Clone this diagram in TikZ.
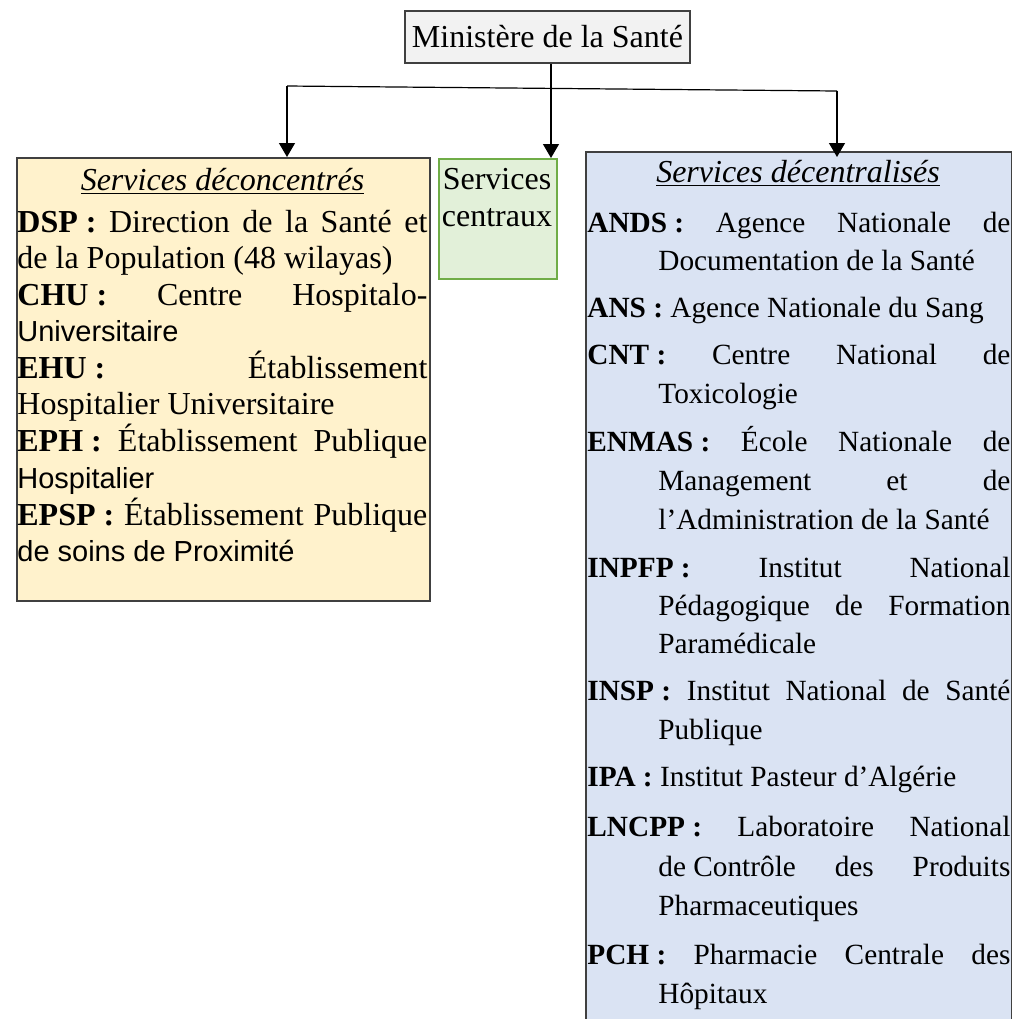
\documentclass[tikz,border=0pt]{standalone}
\usepackage{fontspec}
\setmainfont{Liberation Serif}
\setsansfont{Liberation Sans}
\usetikzlibrary{arrows.meta}
\definecolor{yel}{HTML}{FFF2CC}
\definecolor{blu}{HTML}{DAE3F3}
\definecolor{grn}{HTML}{E2F0D9}
\definecolor{grnb}{HTML}{70AD47}
\definecolor{gry}{HTML}{F2F2F2}
\definecolor{bord}{HTML}{404040}
\newcommand\lab[1]{\textbf{#1\kern.25em:}}
\newcommand\jl[2]{\makebox[#1][s]{#2}}
\newcommand\sfl[1]{{\sffamily\fontsize{14.5pt}{17pt}\selectfont #1}}
\begin{document}
\begin{tikzpicture}[x=0.5pt,y=-0.5pt,
  box/.style={draw=bord, line width=1pt, inner sep=0pt, anchor=north west},
  txt/.style={anchor=base west, inner sep=0pt, font=\fontsize{16pt}{18pt}\selectfont},
  rtxt/.style={anchor=base west, inner sep=0pt, font=\fontsize{14.65pt}{17pt}\selectfont},
  arr/.style={-{Triangle[length=7pt,width=8pt]}, line width=0.6pt}]
\useasboundingbox (0,0) rectangle (1012,1019);
\fill[white] (0,0) rectangle (1012,1019);
% boxes
\node[box, fill=gry, anchor=center, minimum width=142.5pt, minimum height=26pt,
      font=\fontsize{16pt}{18pt}\selectfont] (min) at (547.5,37) {Ministère de la Santé};
\node[box, fill=yel, minimum width=206.5pt, minimum height=221.5pt] (dec) at (16,157) {};
\node[box, fill=grn, draw=grnb, minimum width=59pt, minimum height=60pt] (cen) at (438,158) {};
\node[box, fill=blu, minimum width=213pt, minimum height=440pt] (dcz) at (585,151) {};
% connectors
\coordinate (bl) at (287,86);
\coordinate (br) at (837,91);
\coordinate (j) at (551,88.6);
\draw[line width=0.6pt] (bl) -- (br);
\draw[arr] (j |- min.south) -- (j |- cen.north);
\draw[arr] (bl) -- (bl |- dec.north);
\draw[arr] (br) -- ([yshift=-3pt]br |- dcz.north);
% left box text
\node[txt, anchor=base] (hl) at (222.5,190) {\underline{\textit{Services déconcentrés}}};
\node[txt] (l1) at (17,232) {\jl{205pt}{\lab{DSP} Direction de la Santé et}};
\node[txt] (l2) at (17,268) {de la Population (48 wilayas)};
\node[txt] (l3) at (17,305) {\jl{205pt}{\lab{CHU} Centre Hospitalo-}};
\node[txt] (l4) at (17,341) {\sfl{Universitaire}};
\node[txt] (l5) at (17,378) {\jl{205pt}{\lab{EHU} Établissement}};
\node[txt] (l6) at (17,414) {Hospitalier Universitaire};
\node[txt] (l7) at (17,451) {\jl{205pt}{\lab{EPH} Établissement Publique}};
\node[txt] (l8) at (17,488) {\sfl{Hospitalier}};
\node[txt] (l9) at (17,525) {\jl{205pt}{\lab{EPSP} Établissement Publique}};
\node[txt] (l10) at (17,561) {\sfl{de soins de Proximité}};
% central
\node[txt, anchor=base] (c1) at (497,189) {Services};
\node[txt, anchor=base] (c2) at (497,226) {centraux};
% right box text
\node[txt, anchor=base] (hr) at (798,182) {\underline{\textit{Services décentralisés}}};
\node[rtxt] (r1) at (587,232) {\jl{211.5pt}{\lab{ANDS} Agence Nationale de}};
\node[rtxt] (r2) at (658,270) {Documentation de la Santé};
\node[rtxt] (r3) at (587,317) {\lab{ANS} Agence Nationale du Sang};
\node[rtxt] (r4) at (587,364) {\jl{211.5pt}{\lab{CNT} Centre National de}};
\node[rtxt] (r5) at (658,403) {Toxicologie};
\node[rtxt] (r6) at (587,451) {\jl{211.5pt}{\lab{ENMAS} École Nationale de}};
\node[rtxt] (r7) at (658,490) {\jl{176pt}{Management et de}};
\node[rtxt] (r8) at (658,529) {l’Administration de la Santé};
\node[rtxt] (r9) at (587,577) {\jl{211.5pt}{\lab{INPFP} Institut National}};
\node[rtxt] (r10) at (658,615) {\jl{176pt}{Pédagogique de Formation}};
\node[rtxt] (r11) at (658,653) {Paramédicale};
\node[rtxt] (r12) at (587,700) {\jl{211.5pt}{\lab{INSP} Institut National de Santé}};
\node[rtxt] (r13) at (658,739) {Publique};
\node[rtxt] (r14) at (587,786) {\lab{IPA} Institut Pasteur d’Algérie};
\node[rtxt] (r15) at (587,836) {\jl{211.5pt}{\lab{LNCPP} Laboratoire National}};
\node[rtxt] (r16) at (658,876) {\jl{176pt}{de\kern.25em Contrôle des Produits}};
\node[rtxt] (r17) at (658,915) {Pharmaceutiques};
\node[rtxt] (r18) at (587,964) {\jl{211.5pt}{\lab{PCH} Pharmacie Centrale des}};
\node[rtxt] (r19) at (658,1003) {Hôpitaux};
\end{tikzpicture}
\end{document}
